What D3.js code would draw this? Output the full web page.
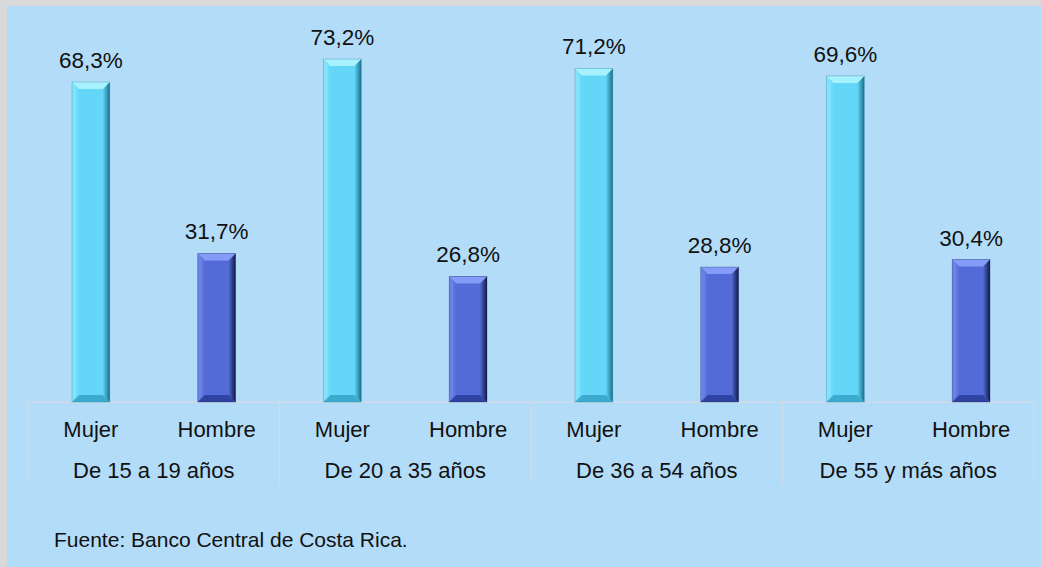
<!DOCTYPE html>
<html>
<head>
<meta charset="utf-8">
<script src="https://cdn.jsdelivr.net/npm/d3@7"></script>
<style>
html,body{margin:0;padding:0;background:#d9d9d9;}
svg{display:block;}
text{font-family:"Liberation Sans",Arial,sans-serif;fill:#111;}
</style>
</head>
<body>
<svg id="chart" width="1042" height="567"></svg>
<script>
const groups = ["De 15 a 19 años", "De 20 a 35 años", "De 36 a 54 años", "De 55 y más años"];
const sexes = ["Mujer", "Hombre"];
const mujer = [68.3, 73.2, 71.2, 69.6];
const hombre = [31.7, 26.8, 28.8, 30.4];
const source = "Fuente: Banco Central de Costa Rica.";

const data = [];
groups.forEach((g, i) => {
  data.push({group: g, sex: "Mujer", value: mujer[i]});
  data.push({group: g, sex: "Hombre", value: hombre[i]});
});

const svg = d3.select("#chart");
const W = 1042, H = 567;
svg.append("rect").attr("x", 7).attr("y", 6).attr("width", W - 7).attr("height", H - 6).attr("fill", "#b3dcf9");

const x0 = d3.scaleBand().domain(groups).range([28, 1034]).padding(0);
const x1 = d3.scaleBand().domain(sexes).range([0, x0.bandwidth()]).paddingInner(0.7).paddingOuter(0.35);
const y = d3.scaleLinear().domain([0, 80]).range([402, 402 - 80 * 4.685]);

const defs = svg.append("defs");
const pal = {
  Mujer: {main: "#64d7f8", top: "#a8f2ff", left: "#86e4fb", right: "#17708c", bottom: "#3cabcf"},
  Hombre: {main: "#536bd6", top: "#849cf7", left: "#6d83e8", right: "#121a44", bottom: "#2f44a2"}
};
Object.keys(pal).forEach(k => {
  const g = defs.append("linearGradient").attr("id", "rg-" + k).attr("x1", 0).attr("x2", 1).attr("y1", 0).attr("y2", 0);
  g.append("stop").attr("offset", "0%").attr("stop-color", pal[k].main);
  g.append("stop").attr("offset", "100%").attr("stop-color", pal[k].right);
  const h = defs.append("linearGradient").attr("id", "mg-" + k).attr("x1", 0).attr("x2", 1).attr("y1", 0).attr("y2", 0);
  h.append("stop").attr("offset", "0%").attr("stop-color", pal[k].left);
  h.append("stop").attr("offset", "20%").attr("stop-color", pal[k].main);
  h.append("stop").attr("offset", "100%").attr("stop-color", pal[k].main);
});

// axis lines
const axisColor = "#cfdbe6";
svg.append("line").attr("x1", x0.range()[0]).attr("x2", x0.range()[1]).attr("y1", y(0)).attr("y2", y(0))
  .attr("stroke", axisColor).attr("stroke-width", 1.5);
const bounds = groups.map(g => x0(g)).concat([x0.range()[1]]);
svg.selectAll(".sep").data(bounds).join("line")
  .attr("x1", d => d).attr("x2", d => d).attr("y1", y(0)).attr("y2", 484)
  .attr("stroke", axisColor).attr("stroke-width", 1.2);

// bars
const bev = 7;
const bars = svg.selectAll(".bar").data(data).join("g").attr("class", "bar");
bars.each(function(d) {
  const g = d3.select(this);
  const bx = x0(d.group) + x1(d.sex), bw = x1.bandwidth();
  const by = y(d.value), bh = y(0) - y(d.value);
  const c = pal[d.sex];
  g.append("rect").attr("x", bx).attr("y", by).attr("width", bw).attr("height", bh).attr("fill", "url(#mg-" + d.sex + ")");
  g.append("path").attr("d", `M${bx+bw-bev},${by+bev} L${bx+bw},${by} L${bx+bw},${by+bh} L${bx+bw-bev},${by+bh-bev} Z`)
    .attr("fill", "url(#rg-" + d.sex + ")");
  g.append("path").attr("d", `M${bx},${by} L${bx+bev*0.6},${by+bev} L${bx+bev*0.6},${by+bh-bev} L${bx},${by+bh} Z`)
    .attr("fill", c.left).attr("opacity", 0.8);
  g.append("path").attr("d", `M${bx},${by+bh} L${bx+bev},${by+bh-bev} L${bx+bw-bev},${by+bh-bev} L${bx+bw},${by+bh} Z`)
    .attr("fill", c.bottom);
  g.append("path").attr("d", `M${bx},${by} L${bx+bw},${by} L${bx+bw-bev},${by+bev} L${bx+bev},${by+bev} Z`)
    .attr("fill", c.top);
  g.append("rect").attr("x", bx).attr("y", by).attr("width", bw).attr("height", bh)
    .attr("fill", "none").attr("stroke", c.right).attr("stroke-opacity", 0.35).attr("stroke-width", 0.8);
});

// value labels
svg.selectAll(".val").data(data).join("text")
  .attr("x", d => x0(d.group) + x1(d.sex) + x1.bandwidth() / 2)
  .attr("y", d => y(d.value) - 14)
  .attr("text-anchor", "middle").attr("font-size", 22.5)
  .text(d => d.value.toFixed(1).replace(".", ",") + "%");

// sex labels
svg.selectAll(".sex").data(data).join("text")
  .attr("x", d => x0(d.group) + x1(d.sex) + x1.bandwidth() / 2)
  .attr("y", 437)
  .attr("text-anchor", "middle").attr("font-size", 22)
  .text(d => d.sex);

// group labels
svg.selectAll(".grp").data(groups).join("text")
  .attr("x", d => x0(d) + x0.bandwidth() / 2)
  .attr("y", 478)
  .attr("text-anchor", "middle").attr("font-size", 22)
  .text(d => d);

svg.append("text").attr("x", 54).attr("y", 547).attr("font-size", 21).text(source);
</script>
</body>
</html>
